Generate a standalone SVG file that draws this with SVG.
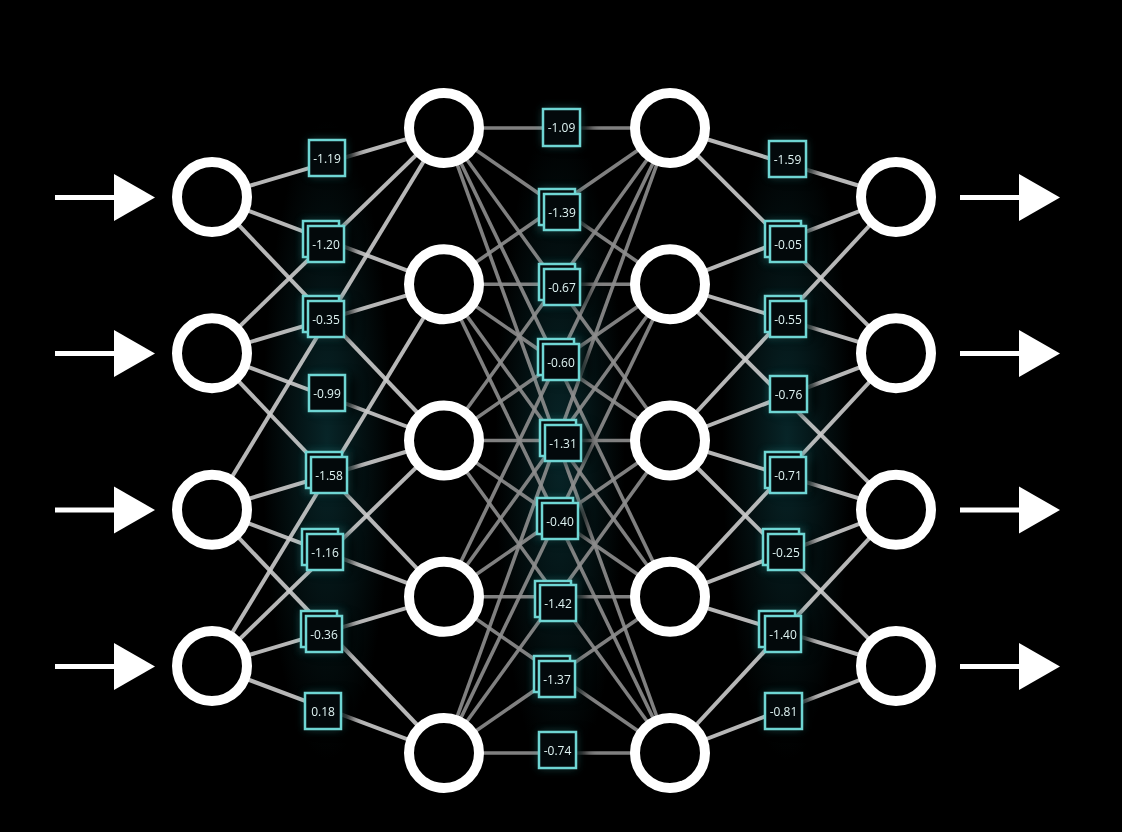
<svg xmlns="http://www.w3.org/2000/svg" width="1122" height="832" viewBox="0 0 1122 832">
<defs>
<style>
.e1{stroke:#cbcbcb;stroke-width:4;stroke-opacity:0.9}
.e2{stroke:#8e8e8e;stroke-width:3.6;stroke-opacity:0.9}
.node{fill:#000;stroke:#fff;stroke-width:10}
.wb{fill:#03090b;stroke:#6fd6d4;stroke-width:2.5}
.wt{font-family:"Open Sans","Noto Sans",sans-serif;font-size:12px;fill:#dff4f3;text-anchor:middle;dominant-baseline:central}
.arr{fill:#fff}
.gl{fill:#3cc8c8;opacity:0.35}
.sh{fill:#000;opacity:0.9}
</style>
<filter id="blur" x="-50%" y="-50%" width="200%" height="200%"><feGaussianBlur stdDeviation="5"/></filter>
<filter id="sblur" x="-50%" y="-50%" width="200%" height="200%"><feGaussianBlur stdDeviation="6"/></filter>
<radialGradient id="halo" cx="0.5" cy="0.5" r="0.5">
<stop offset="0" stop-color="#0f4a50" stop-opacity="0.5"/>
<stop offset="1" stop-color="#0f4a50" stop-opacity="0"/>
</radialGradient>
</defs>
<rect width="1122" height="832" fill="#000"/>
<g id="halos">
<ellipse cx="327" cy="440" rx="65" ry="320" fill="url(#halo)"/>
<ellipse cx="560" cy="450" rx="65" ry="330" fill="url(#halo)"/>
<ellipse cx="787" cy="440" rx="65" ry="320" fill="url(#halo)"/>
</g>
<g id="connectors">
<g class="e1">
<line x1="212" y1="197" x2="444" y2="128"/><line x1="212" y1="197" x2="444" y2="284.3"/><line x1="212" y1="197" x2="444" y2="440.5"/>
<line x1="212" y1="353.3" x2="444" y2="128"/><line x1="212" y1="353.3" x2="444" y2="284.3"/><line x1="212" y1="353.3" x2="444" y2="440.5"/><line x1="212" y1="353.3" x2="444" y2="596.8"/>
<line x1="212" y1="509.7" x2="444" y2="128"/><line x1="212" y1="509.7" x2="444" y2="440.5"/><line x1="212" y1="509.7" x2="444" y2="596.8"/><line x1="212" y1="509.7" x2="444" y2="753"/>
<line x1="212" y1="666" x2="444" y2="284.3"/><line x1="212" y1="666" x2="444" y2="440.5"/><line x1="212" y1="666" x2="444" y2="596.8"/><line x1="212" y1="666" x2="444" y2="753"/>
</g>
<g class="e2">
<line x1="444" y1="128" x2="670" y2="128"/><line x1="444" y1="128" x2="670" y2="284.3"/><line x1="444" y1="128" x2="670" y2="440.5"/><line x1="444" y1="128" x2="670" y2="596.8"/><line x1="444" y1="128" x2="670" y2="753"/>
<line x1="444" y1="284.3" x2="670" y2="128"/><line x1="444" y1="284.3" x2="670" y2="284.3"/><line x1="444" y1="284.3" x2="670" y2="440.5"/><line x1="444" y1="284.3" x2="670" y2="596.8"/><line x1="444" y1="284.3" x2="670" y2="753"/>
<line x1="444" y1="440.5" x2="670" y2="128"/><line x1="444" y1="440.5" x2="670" y2="284.3"/><line x1="444" y1="440.5" x2="670" y2="440.5"/><line x1="444" y1="440.5" x2="670" y2="596.8"/><line x1="444" y1="440.5" x2="670" y2="753"/>
<line x1="444" y1="596.8" x2="670" y2="128"/><line x1="444" y1="596.8" x2="670" y2="284.3"/><line x1="444" y1="596.8" x2="670" y2="440.5"/><line x1="444" y1="596.8" x2="670" y2="596.8"/><line x1="444" y1="596.8" x2="670" y2="753"/>
<line x1="444" y1="753" x2="670" y2="128"/><line x1="444" y1="753" x2="670" y2="284.3"/><line x1="444" y1="753" x2="670" y2="440.5"/><line x1="444" y1="753" x2="670" y2="596.8"/><line x1="444" y1="753" x2="670" y2="753"/>
</g>
<g class="e1">
<line x1="670" y1="128" x2="896" y2="197"/><line x1="670" y1="128" x2="896" y2="353.3"/>
<line x1="670" y1="284.3" x2="896" y2="197"/><line x1="670" y1="284.3" x2="896" y2="353.3"/><line x1="670" y1="284.3" x2="896" y2="509.7"/>
<line x1="670" y1="440.5" x2="896" y2="197"/><line x1="670" y1="440.5" x2="896" y2="353.3"/><line x1="670" y1="440.5" x2="896" y2="509.7"/><line x1="670" y1="440.5" x2="896" y2="666"/>
<line x1="670" y1="596.8" x2="896" y2="353.3"/><line x1="670" y1="596.8" x2="896" y2="509.7"/><line x1="670" y1="596.8" x2="896" y2="666"/>
<line x1="670" y1="753" x2="896" y2="509.7"/><line x1="670" y1="753" x2="896" y2="666"/>
</g>
<g id="arrows">
<rect x="55" y="195" width="61" height="5" class="arr"/><polygon points="114,174 155,197.5 114,221" class="arr"/>
<rect x="55" y="351" width="61" height="5" class="arr"/><polygon points="114,330 155,353.5 114,377" class="arr"/>
<rect x="55" y="507.5" width="61" height="5" class="arr"/><polygon points="114,486.5 155,510 114,533.5" class="arr"/>
<rect x="55" y="664" width="61" height="5" class="arr"/><polygon points="114,643 155,666.5 114,690" class="arr"/>
<rect x="960" y="195" width="61" height="5" class="arr"/><polygon points="1019,174 1060,197.5 1019,221" class="arr"/>
<rect x="960" y="351" width="61" height="5" class="arr"/><polygon points="1019,330 1060,353.5 1019,377" class="arr"/>
<rect x="960" y="507.5" width="61" height="5" class="arr"/><polygon points="1019,486.5 1060,510 1019,533.5" class="arr"/>
<rect x="960" y="664" width="61" height="5" class="arr"/><polygon points="1019,643 1060,666.5 1019,690" class="arr"/>
</g>
</g>
<g id="box-shadow" filter="url(#sblur)">
<rect class="sh" x="319" y="142" width="36" height="34"/><rect class="sh" x="316" y="228" width="36" height="34"/><rect class="sh" x="316" y="303" width="36" height="34"/><rect class="sh" x="319" y="377" width="36" height="34"/><rect class="sh" x="319" y="459" width="36" height="34"/><rect class="sh" x="315" y="536" width="36" height="34"/><rect class="sh" x="314" y="618" width="36" height="34"/><rect class="sh" x="315" y="695" width="36" height="34"/>
<rect class="sh" x="553" y="111" width="36" height="34"/><rect class="sh" x="552" y="196" width="36" height="34"/><rect class="sh" x="552" y="271" width="36" height="34"/><rect class="sh" x="551" y="346" width="36" height="34"/><rect class="sh" x="553" y="427" width="36" height="34"/><rect class="sh" x="550" y="505" width="36" height="34"/><rect class="sh" x="548" y="587" width="36" height="34"/><rect class="sh" x="547" y="663" width="36" height="34"/><rect class="sh" x="549" y="734" width="36" height="34"/>
<rect class="sh" x="779" y="143" width="36" height="34"/><rect class="sh" x="778" y="228" width="36" height="34"/><rect class="sh" x="778" y="303" width="36" height="34"/><rect class="sh" x="780" y="378" width="36" height="34"/><rect class="sh" x="778" y="459" width="36" height="34"/><rect class="sh" x="776" y="536" width="36" height="34"/><rect class="sh" x="773" y="618" width="36" height="34"/><rect class="sh" x="775" y="695" width="36" height="34"/>
</g>
<g id="box-glow" filter="url(#blur)">
<rect class="gl" x="309" y="140" width="36" height="36"/><rect class="gl" x="303" y="221" width="41" height="41"/><rect class="gl" x="303" y="296" width="41" height="41"/><rect class="gl" x="309" y="375" width="36" height="36"/><rect class="gl" x="306" y="452" width="42" height="41"/><rect class="gl" x="302" y="529" width="42" height="42"/><rect class="gl" x="301" y="611" width="42" height="41"/><rect class="gl" x="305" y="693" width="36" height="36"/>
<rect class="gl" x="543" y="109" width="37" height="37"/><rect class="gl" x="539" y="189" width="41" height="42"/><rect class="gl" x="539" y="264" width="41" height="41"/><rect class="gl" x="538" y="339" width="42" height="41"/><rect class="gl" x="540" y="420" width="42" height="41"/><rect class="gl" x="537" y="498" width="41" height="40"/><rect class="gl" x="535" y="581" width="42" height="40"/><rect class="gl" x="534" y="656" width="42" height="41"/><rect class="gl" x="539" y="732" width="37" height="36"/>
<rect class="gl" x="769" y="141" width="37" height="36"/><rect class="gl" x="765" y="221" width="41" height="41"/><rect class="gl" x="765" y="296" width="41" height="41"/><rect class="gl" x="770" y="376" width="37" height="36"/><rect class="gl" x="765" y="452" width="42" height="40"/><rect class="gl" x="763" y="529" width="41" height="41"/><rect class="gl" x="759" y="611" width="43" height="41"/><rect class="gl" x="765" y="693" width="37" height="36"/>
</g>
<g id="w1-0"><rect class="wb" x="309" y="140" width="36" height="36"/><text class="wt" x="327" y="158">-1.19</text></g>
<g id="w1-1"><rect class="wb" x="303" y="221" width="36" height="36"/><rect class="wb" x="308" y="226" width="36" height="36"/><text class="wt" x="326" y="244">-1.20</text></g>
<g id="w1-2"><rect class="wb" x="303" y="296" width="36" height="36"/><rect class="wb" x="308" y="301" width="36" height="36"/><text class="wt" x="326" y="319">-0.35</text></g>
<g id="w1-3"><rect class="wb" x="309" y="375" width="36" height="36"/><text class="wt" x="327" y="393">-0.99</text></g>
<g id="w1-4"><rect class="wb" x="306" y="452" width="36" height="36"/><rect class="wb" x="311" y="457" width="36" height="36"/><text class="wt" x="329" y="475">-1.58</text></g>
<g id="w1-5"><rect class="wb" x="302" y="529" width="36" height="36"/><rect class="wb" x="307" y="534" width="36" height="36"/><text class="wt" x="325" y="552">-1.16</text></g>
<g id="w1-6"><rect class="wb" x="301" y="611" width="36" height="36"/><rect class="wb" x="306" y="616" width="36" height="36"/><text class="wt" x="324" y="634">-0.36</text></g>
<g id="w1-7"><rect class="wb" x="305" y="693" width="36" height="36"/><text class="wt" x="323" y="711">0.18</text></g>
<g id="w2-0"><rect class="wb" x="543" y="109" width="37" height="37"/><text class="wt" x="561.5" y="127.5">-1.09</text></g>
<g id="w2-1"><rect class="wb" x="539" y="189" width="36" height="36"/><rect class="wb" x="544" y="194" width="36" height="36"/><text class="wt" x="562" y="212">-1.39</text></g>
<g id="w2-2"><rect class="wb" x="539" y="264" width="36" height="36"/><rect class="wb" x="544" y="269" width="36" height="36"/><text class="wt" x="562" y="287">-0.67</text></g>
<g id="w2-3"><rect class="wb" x="538" y="339" width="36" height="36"/><rect class="wb" x="543" y="344" width="36" height="36"/><text class="wt" x="561" y="362">-0.60</text></g>
<g id="w2-4"><rect class="wb" x="540" y="420" width="36" height="36"/><rect class="wb" x="545" y="425" width="36" height="36"/><text class="wt" x="563" y="443">-1.31</text></g>
<g id="w2-5"><rect class="wb" x="537" y="498" width="36" height="36"/><rect class="wb" x="542" y="503" width="36" height="36"/><text class="wt" x="560" y="521">-0.40</text></g>
<g id="w2-6"><rect class="wb" x="535" y="581" width="36" height="36"/><rect class="wb" x="540" y="585" width="36" height="36"/><text class="wt" x="558" y="603">-1.42</text></g>
<g id="w2-7"><rect class="wb" x="534" y="656" width="36" height="36"/><rect class="wb" x="539" y="661" width="36" height="36"/><text class="wt" x="557" y="679">-1.37</text></g>
<g id="w2-8"><rect class="wb" x="539" y="732" width="37" height="36"/><text class="wt" x="557.5" y="750">-0.74</text></g>
<g id="w3-0"><rect class="wb" x="769" y="141" width="37" height="36"/><text class="wt" x="787.5" y="159">-1.59</text></g>
<g id="w3-1"><rect class="wb" x="765" y="221" width="36" height="36"/><rect class="wb" x="770" y="226" width="36" height="36"/><text class="wt" x="788" y="244">-0.05</text></g>
<g id="w3-2"><rect class="wb" x="765" y="296" width="36" height="36"/><rect class="wb" x="770" y="301" width="36" height="36"/><text class="wt" x="788" y="319">-0.55</text></g>
<g id="w3-3"><rect class="wb" x="770" y="376" width="37" height="36"/><text class="wt" x="788.5" y="394">-0.76</text></g>
<g id="w3-4"><rect class="wb" x="765" y="452" width="36" height="36"/><rect class="wb" x="770" y="457" width="36" height="36"/><text class="wt" x="788" y="475">-0.71</text></g>
<g id="w3-5"><rect class="wb" x="763" y="529" width="36" height="36"/><rect class="wb" x="768" y="534" width="36" height="36"/><text class="wt" x="786" y="552">-0.25</text></g>
<g id="w3-6"><rect class="wb" x="759" y="611" width="36" height="36"/><rect class="wb" x="765" y="616" width="36" height="36"/><text class="wt" x="783" y="634">-1.40</text></g>
<g id="w3-7"><rect class="wb" x="765" y="693" width="37" height="36"/><text class="wt" x="783.5" y="711">-0.81</text></g>
<g id="in-0"><circle class="node" cx="212" cy="197" r="35"/></g>
<g id="in-1"><circle class="node" cx="212" cy="353.3" r="35"/></g>
<g id="in-2"><circle class="node" cx="212" cy="509.7" r="35"/></g>
<g id="in-3"><circle class="node" cx="212" cy="666" r="35"/></g>
<g id="h1-0"><circle class="node" cx="444" cy="128" r="35"/></g>
<g id="h1-1"><circle class="node" cx="444" cy="284.3" r="35"/></g>
<g id="h1-2"><circle class="node" cx="444" cy="440.5" r="35"/></g>
<g id="h1-3"><circle class="node" cx="444" cy="596.8" r="35"/></g>
<g id="h1-4"><circle class="node" cx="444" cy="753" r="35"/></g>
<g id="h2-0"><circle class="node" cx="670" cy="128" r="35"/></g>
<g id="h2-1"><circle class="node" cx="670" cy="284.3" r="35"/></g>
<g id="h2-2"><circle class="node" cx="670" cy="440.5" r="35"/></g>
<g id="h2-3"><circle class="node" cx="670" cy="596.8" r="35"/></g>
<g id="h2-4"><circle class="node" cx="670" cy="753" r="35"/></g>
<g id="out-0"><circle class="node" cx="896" cy="197" r="35"/></g>
<g id="out-1"><circle class="node" cx="896" cy="353.3" r="35"/></g>
<g id="out-2"><circle class="node" cx="896" cy="509.7" r="35"/></g>
<g id="out-3"><circle class="node" cx="896" cy="666" r="35"/></g>
</svg>
